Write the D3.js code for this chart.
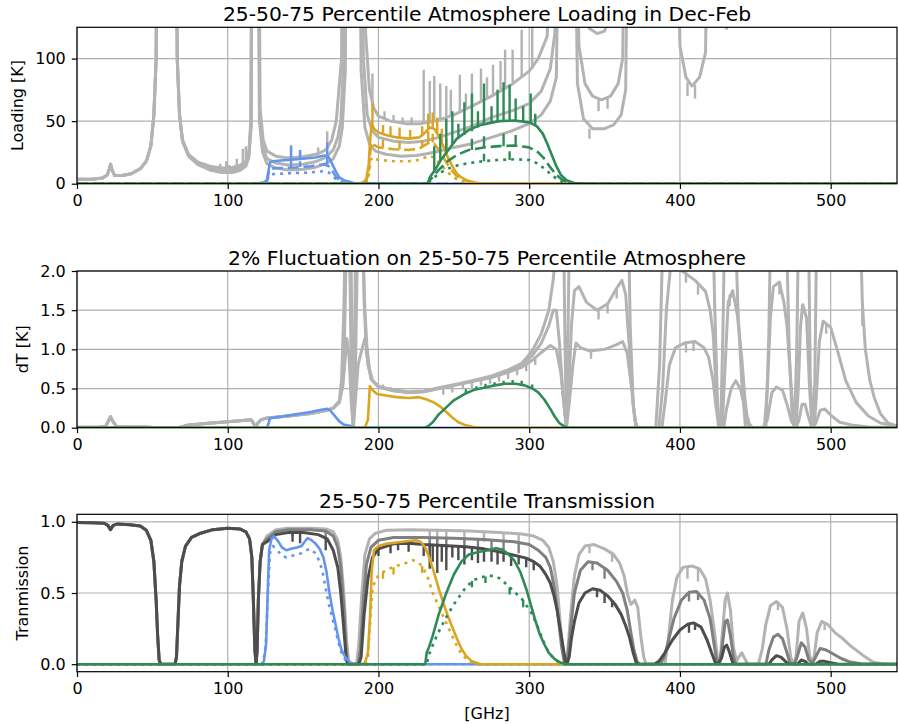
<!DOCTYPE html>
<html lang="en">
<head>
<meta charset="UTF-8">
<title>Atmosphere loading and transmission</title>
<script src="https://cdn.jsdelivr.net/npm/d3@7"></script>
<style>
  body { margin: 0; background: #fff; }
  svg { display: block; font-family: "DejaVu Sans", sans-serif; }
</style>
</head>
<body>
<svg id="chart" width="899" height="725"></svg>
<script>
// ---- shared axis values ----
const xDomain = [0, 544];
const xTicks = [0, 100, 200, 300, 400, 500];

// ---- panel 1: loading [K] (25 / 50 / 75 percentile) ----
const loadLo = [[0,3.5],[10,3.6],[17,4.5],[20,7],[21.5,12],[22.3,15.5],[23.2,11],[25,6.5],[30,6.6],[36,8],[42,12],[46,18],[49,30],[51,55],[52.5,100],[53.5,300],[65.5,300],[66.5,100],[68,55],[70,34],[74,22],[80,15.5],[88,11],[96,9],[103,9],[108,10.5],[112,14],[114,21],[115.5,45],[116.5,300],[119.8,300],[121,50],[123,26],[126,16],[132,12.5],[140,11],[150,11.5],[158,13],[165,16],[170,20],[174,30],[176,45],[178,90],[179,300],[187,300],[188.5,90],[191,45],[194,32],[198,26],[205,23.5],[215,22],[225,22.5],[232,24],[240,26],[250,29],[262,32],[275,37],[288,42],[300,48],[308,55],[314,66],[318,85],[320.5,300],[329.5,300],[332,80],[336,52],[342,44],[350,44],[356,47],[361,55],[364,75],[366,300],[397,300],[400,110],[404,85],[408,78],[413,85],[417,105],[419,300],[429.5,300],[431,124],[432.5,300],[544,300]];
const loadMid = [[0,3.5],[10,3.6],[17,4.5],[20,7],[21.5,12],[22.3,15.5],[23.2,11],[25,6.5],[30,6.6],[36,8],[42,12],[46,18],[49,30],[51,55],[52.5,100],[53.5,300],[65.5,300],[66.5,100],[68,55],[70,34],[74,22.5],[80,16.5],[88,12.5],[96,11],[103,11],[108,12.5],[112,16],[114,23],[115.5,48],[116.3,300],[120,300],[121.2,55],[123,30],[126,20],[132,16.5],[140,15],[150,15.5],[158,17.5],[165,21],[170,27],[173,37],[175,50],[177,100],[178,300],[188.5,300],[190,100],[192.5,55],[196,42],[200,37],[210,34],[220,33],[230,34],[240,37],[250,41],[262,46],[275,53],[288,58],[300,64],[308,74],[314,92],[317,120],[319,300],[330,300],[333,110],[337,80],[342,70],[348,67],[354,70],[359,80],[362,100],[364,300],[544,300]];
const loadHi = [[0,3.5],[10,3.6],[17,4.5],[20,7],[21.5,12],[22.3,15.5],[23.2,11],[25,6.5],[30,6.6],[36,8],[42,12],[46,18],[49,30],[51,55],[52.5,100],[53.5,300],[65.5,300],[66.5,100],[68,56],[70,35],[74,23.5],[80,17.5],[88,14],[96,12.5],[103,13],[108,14.5],[112,18],[114,25],[115.3,50],[116.2,300],[120.2,300],[121.5,60],[123.5,35],[126,26],[132,22],[140,20.5],[150,21.5],[160,24],[165,27],[169,35],[172,50],[175.5,100],[176.5,300],[190,300],[191.5,120],[194,75],[197,60],[200,54],[208,50],[218,48],[228,48],[238,50],[250,55],[262,62],[275,70],[288,79],[300,90],[306,100],[312,118],[315,300],[333,300],[336,135],[340,124],[345,120],[350,122],[354,135],[356,300],[544,300]];
// narrow lines: [GHz, base, tip]
const loadGreySpikes = [[95,10,16],[99,11,18],[101,11,15],[106,13,20],[110,15,28],[112,17,30],[142,20,31],[148,21,27],[160,24,29],[166,28,42],[196,62,88],[204,52,58],[210,50,55],[216,48,53],[222,48,53],[230,48,91],[234,49,82],[237,50,86],[241,51,80],[245,53,78],[248,54,75],[254,57,87],[258,59,72],[262,62,88],[268,66,92],[272,68,85],[276,71,95],[281,75,98],[284,77,107],[289,81,107],[295,86,123],[302,92,126],[340,44,36],[346,68,58],[352,69,60],[405,81,70],[410,79,68]];

const loadBlueHi = [[0,0],[112,0],[117,0.3],[121,0.6],[124,1],[126,3],[127,10],[128,17],[130,18],[135,18.5],[140,19],[150,20],[158,21],[164,22.5],[166.5,22],[168,19],[170,14],[172,9],[174,5],[177,2.8],[180,1.8],[183,0.8],[186,0],[544,0]];
const loadBlueMid = [[0,0],[120,0],[124,0.5],[126,2],[127,8],[128,12],[135,12.5],[145,13],[155,14],[164,15.5],[167,14],[169,11],[171,7],[173,4],[176,2],[180,1],[184,0],[544,0]];
const loadBlueLo = [[0,0],[121,0],[125,1],[127,5],[128,7.5],[135,8],[145,8.5],[155,9],[164,10],[167,9],[169,7],[171,4.5],[173,2.5],[176,1.2],[181,0.3],[184,0],[544,0]];
const loadBlueSpikes = [[142,19,30],[148,20,27],[166,22.5,33],[142,12.8,19],[148,13.3,18],[166,15.3,22]];

const loadOrangeHi = [[0,0],[186,0],[190,1],[192,4],[193.5,15],[194.5,35],[195.5,48],[197,44],[200,41],[205,39],[212,37],[220,36],[227,37],[231,41],[234,45],[237,44],[240,38],[243,30],[246,21],[249,14],[252,8],[255,5],[259,2.5],[264,1],[270,0],[544,0]];
const loadOrangeMid = [[0,0],[188,0],[192,2],[193.5,10],[194.5,25],[195.5,33],[197,31],[200,29],[210,27.5],[220,27],[227,28],[231,31],[234,33],[237,32],[240,27],[243,21],[246,15],[249,10],[252,6],[255,3.5],[260,1.5],[266,0],[544,0]];
const loadOrangeLo = [[0,0],[189,0],[192,1],[193.5,6],[194.5,15],[195.5,21],[197,20],[200,19],[210,18],[220,18],[227,19],[231,21],[234,22],[237,21],[240,17],[243,13],[246,9],[249,6],[252,3.5],[256,1.8],[262,0.5],[266,0],[544,0]];
const loadOrangeSpikes = [[196,46,64],[203,40,47],[208,38.5,46],[214,37,45],[221,36,43],[229,38,46],[233,43,56],[236,45,57],[239,40,53],[242,32,44],[245,24,36],[203,29,35],[214,27.5,34],[229,29,35],[233,32,42],[236,33,40]];

const loadGreenHi = [[0,0],[230,0],[233,0.5],[234,5],[238,12],[242,20],[247,28],[252,36],[260,43],[268,47],[280,50],[290,50.5],[300,49],[305,46],[309,40],[312,32],[315,23],[318,14],[321,7],[325,2.5],[330,0.5],[340,0],[544,0]];
const loadGreenMid = [[0,0],[232,0],[235,4],[240,11],[246,18],[252,23],[260,27],[270,29],[280,30],[290,30.5],[300,29],[306,25],[310,20],[314,13],[318,7],[322,3],[327,0.5],[335,0],[544,0]];
const loadGreenLo = [[0,0],[232,0],[235,3],[240,8],[246,12],[252,14.5],[260,16.5],[270,18],[280,19],[290,19.5],[300,19],[306,16],[310,12],[314,8],[318,4],[322,1.5],[327,0.3],[335,0],[544,0]];
const loadGreenSpikes = [[237,10,30],[241,18,40],[245,26,52],[249,31,58],[253,36,48],[257,39,65],[262,42,72],[266,45,58],[270,47,80],[275,48,62],[279,50,75],[283,50,81],[287,50,79],[291,50,68],[296,49,62],[301,48,72],[304,46,56],[262,27,36],[270,29,38],[283,30,40],[291,30,39],[270,18,24],[287,19,26]];

// ---- panel 2: dT [K] for a 2% fluctuation ----
const dtLow = [[0,0.005],[15,0.006],[19,0.02],[21,0.09],[22.2,0.14],[23.5,0.09],[26,0.02],[30,0.01],[45,0.008],[51,0.004],[54,0],[67,0],[69,0.01],[73,0.03],[85,0.055],[100,0.075],[112,0.095],[115.5,0.1],[117,0.06],[118.5,0.005],[120,0.06],[122,0.1],[125,0.12],[140,0.15],[155,0.18],[165,0.22],[170,0.25]];
const dtLo = dtLow.concat([[174,0.32],[176.5,0.55],[178,0.9],[179,1.14],[180.5,0.9],[182,0.3],[183.3,0],[184.5,0.3],[186.5,0.8],[189,1.0],[191,1.14],[192.5,1.0],[194,0.75],[196,0.6],[200,0.52],[210,0.47],[220,0.45],[230,0.46],[240,0.5],[250,0.54],[262,0.59],[275,0.64],[285,0.7],[295,0.77],[302,0.86],[308,0.96],[314,1.05],[318,1.0],[321,0.7],[323,0.3],[324.7,0],[326.5,0.3],[329,0.8],[331,1.08],[334,1.02],[340,0.98],[350,1.0],[358,1.06],[362,1.1],[365,0.95],[368,0.5],[370,0.1],[372,0],[388,0],[390,0.3],[393,0.8],[397,1.02],[403,1.08],[410,1.1],[416,1.02],[419,0.9],[422,0.6],[424,0.25],[426,0],[429,0],[431,0.25],[434,0.5],[437,0.6],[440,0.5],[443,0.25],[446,0.05],[448,0],[455,0],[458,0.1],[461,0.45],[464,0.52],[468,0.48],[471,0.3],[474,0.08],[477,0],[479,0.1],[481,0.3],[483,0.3],[485,0.15],[487,0.03],[490,0.05],[493,0.22],[496,0.24],[500,0.16],[506,0.07],[515,0.03],[525,0.01],[544,0.005]]);
const dtMid = dtLow.concat([[174,0.33],[176,0.55],[177.5,1.2],[178.8,2.4],[179.5,3],[180.8,2.4],[182,0.6],[183.3,0],[184.6,0.6],[186,2.2],[187.5,3],[189.5,2.4],[191,1.5],[193,0.8],[196,0.6],[200,0.52],[210,0.47],[220,0.45],[230,0.46],[240,0.5],[250,0.54],[262,0.59],[275,0.65],[285,0.71],[295,0.8],[302,0.92],[308,1.08],[313,1.3],[316,1.5],[318,1.5],[320,1.1],[322.5,0.4],[324.7,0],[326.5,0.6],[328,1.3],[330,1.75],[333,1.8],[338,1.6],[345,1.5],[352,1.58],[358,1.78],[361.5,1.88],[364,1.7],[366.5,1.0],[369,0.3],[371,0],[386,0],[388.5,0.5],[391,1.5],[394,2.1],[400,2.02],[410,1.88],[417,1.74],[420,1.5],[422,1.2],[424,0.5],[426,0],[428,0],[430,0.8],[432,1.6],[435,1.75],[438,1.45],[441,0.9],[443,0.4],[445,0.05],[447,0],[456,0],[458,0.5],[460,1.4],[462,1.8],[466,1.86],[469,1.6],[471,1.3],[473.5,0.6],[475.5,0.1],[477,0],[478.5,0.5],[480,1.3],[481.5,1.57],[484,1.4],[486,0.5],[487.5,0.05],[489,0],[490.5,0.4],[492.5,1.1],[495,1.36],[500,1.28],[505,0.95],[510,0.6],[517,0.32],[525,0.15],[533,0.06],[544,0.02]]);
const dtHi = dtLow.concat([[174,0.34],[175.5,0.6],[177,1.5],[178.5,3],[181.5,3],[182.6,0.5],[183.3,0],[184,0.5],[185,3],[189,3],[190.5,1.6],[192,0.95],[195,0.62],[200,0.53],[210,0.48],[220,0.46],[230,0.47],[240,0.51],[250,0.55],[262,0.6],[275,0.66],[285,0.73],[295,0.82],[302,0.98],[308,1.2],[313,1.5],[316,1.9],[318,2.3],[320,3],[322.5,3],[323.8,1.0],[324.7,0],[325.6,1.0],[327,3],[365.5,3],[367,1.3],[369,0.3],[371,0],[384,0],[386.5,0.8],[388.5,2.3],[389,3],[421.5,3],[423,1.6],[424.5,0.6],[425.5,0],[427,0],[428.5,1.2],[430,3],[436,3],[438.5,1.5],[441,0.6],[443.5,0],[457,0],[459,1.2],[460.5,3],[470,3],[472.5,1.0],[474.5,0.1],[476,0],[477.5,1.0],[479,3],[485,3],[486.5,0.6],[488,0],[489.5,0.6],[491,3],[519,3],[521,1.6],[523,1.0],[526,0.6],[529,0.38],[533,0.18],[538,0.06],[544,0.02]]);
const dtGreySpikes = [[203,0.5,0.55],[208,0.48,0.52],[214,0.46,0.5],[243,0.51,0.42],[249,0.53,0.45],[256,0.56,0.49],[262,0.58,0.5],[268,0.61,0.54],[274,0.63,0.56],[280,0.67,0.59],[286,0.71,0.62],[292,0.75,0.67],[298,0.82,0.72],[304,0.9,0.8],[341,0.98,0.88],[346,1.5,1.38],[352,1.58,1.46],[358,1.78,1.65],[404,1.08,0.96],[409,1.1,0.98],[404,2.02,1.85],[412,1.85,1.7],[433,1.7,1.55],[466,1.86,1.7],[481,1.57,1.45],[497,1.33,1.2],[521,1.6,1.3]];
const dtBlue = [[0,0],[126,0],[127,0.05],[128,0.12],[135,0.14],[145,0.17],[155,0.2],[162,0.23],[166,0.24],[168,0.22],[171,0.15],[174,0.08],[177,0.04],[181,0.025],[183,0.01],[185,0],[544,0]];
const dtOrange = [[0,0],[191,0],[193,0.1],[194.3,0.53],[196,0.48],[199,0.43],[205,0.41],[212,0.39],[220,0.38],[227,0.39],[232,0.36],[237,0.32],[241,0.27],[245,0.2],[249,0.13],[253,0.07],[258,0.03],[264,0.005],[268,0],[544,0]];
const dtGreen = [[0,0],[231,0],[233,0.02],[236,0.07],[240,0.17],[245,0.26],[250,0.35],[257,0.43],[263,0.48],[270,0.51],[277,0.54],[284,0.56],[291,0.56],[297,0.54],[302,0.5],[306,0.45],[310,0.36],[314,0.24],[317,0.14],[320,0.06],[323,0.02],[326,0],[544,0]];
const dtGreenSpikes = [[258,0.44,0.49],[265,0.48,0.53],[271,0.51,0.56],[277,0.54,0.58],[283,0.56,0.6],[289,0.56,0.61],[295,0.55,0.6],[302,0.5,0.55]];

// ---- panel 3: transmission ----
const transLow = [[0,0.995],[10,0.994],[18,0.99],[20.5,0.975],[22.2,0.945],[24,0.975],[27,0.985],[35,0.98],[42,0.97],[46,0.94],[49,0.87],[51,0.72],[52.5,0.45],[53.5,0.2],[54.5,0.03],[55.5,0],[65,0],[66,0.05],[67,0.3],[68,0.55],[69.5,0.72],[72,0.83],[76,0.89],[82,0.92],[90,0.945],[100,0.955],[108,0.95],[112,0.93],[114.5,0.88],[116,0.75],[117,0.45],[118,0.1],[118.8,0],[119.5,0.1],[120.3,0.45],[121.5,0.72],[123,0.84]];
const transLight = transLow.concat([[126,0.9],[132,0.945],[140,0.955],[155,0.955],[165,0.95],[170,0.93],[173,0.87],[175,0.75],[177,0.5],[179,0.15],[180.5,0],[185.5,0],[187,0.15],[189,0.5],[191,0.77],[194,0.88],[198,0.92],[205,0.94],[220,0.945],[240,0.94],[260,0.935],[280,0.925],[295,0.915],[303,0.9],[309,0.87],[313,0.82],[316,0.72],[318.5,0.55],[320.5,0.3],[322.5,0.08],[324,0],[325.5,0.08],[327.5,0.35],[330,0.62],[333,0.77],[337,0.83],[343,0.84],[350,0.81],[356,0.77],[360,0.71],[363,0.62],[365.5,0.48],[367.5,0.42],[370,0.45],[372,0.4],[374,0.2],[376,0.05],[377.5,0],[390,0],[392,0.15],[395,0.45],[398,0.61],[402,0.68],[408,0.69],[413,0.67],[417,0.6],[420,0.45],[423,0.22],[425,0.04],[426.5,0],[428,0.2],[430,0.45],[431.5,0.5],[433.5,0.38],[435.5,0.12],[437.5,0.02],[439,0.05],[441,0.08],[443,0.04],[445,0],[452,0],[454.5,0.1],[457,0.28],[460,0.41],[464,0.44],[468,0.4],[471,0.25],[473.5,0.05],[475,0],[477,0.05],[479,0.3],[481.5,0.36],[484,0.25],[486,0.06],[487.5,0.02],[489,0.05],[491,0.22],[494,0.3],[498,0.28],[503,0.22],[508,0.18],[513,0.13],[518,0.09],[523,0.05],[528,0.015],[534,0.002],[544,0]]);
const transMid = transLow.concat([[126,0.88],[132,0.93],[140,0.945],[155,0.945],[165,0.935],[170,0.9],[173,0.82],[175,0.68],[177,0.4],[178.5,0.1],[179.5,0],[186.5,0],[188,0.1],[190,0.45],[192,0.7],[195,0.82],[200,0.87],[210,0.89],[230,0.89],[250,0.885],[270,0.875],[290,0.86],[300,0.84],[306,0.8],[311,0.75],[314,0.68],[316.5,0.55],[319,0.35],[321.5,0.12],[323.5,0],[325.5,0.05],[327.5,0.25],[330,0.5],[334,0.66],[339,0.72],[345,0.71],[352,0.66],[358,0.58],[362,0.5],[365,0.38],[367.5,0.22],[369.5,0.1],[371.5,0.02],[373,0],[387,0],[389.5,0.05],[392,0.15],[396,0.32],[401,0.45],[406,0.505],[411,0.51],[416,0.45],[420,0.32],[422.5,0.15],[424.5,0.02],[426,0],[428,0.12],[430,0.3],[431.5,0.31],[433.5,0.2],[435.5,0.05],[437,0],[457,0],[459,0.1],[462,0.19],[465,0.21],[468,0.18],[471,0.08],[473,0.01],[476,0],[478,0.06],[480.5,0.15],[483,0.12],[485.5,0.03],[488,0.01],[490,0.05],[493,0.11],[497,0.1],[502,0.07],[507,0.04],[513,0.015],[520,0.003],[544,0]]);
const transDark = transLow.concat([[126,0.86],[132,0.91],[140,0.925],[150,0.925],[160,0.91],[166,0.88],[170,0.8],[173,0.68],[175,0.5],[177,0.25],[178.5,0.05],[179.5,0],[187,0],[188.5,0.05],[190.5,0.35],[193,0.6],[196,0.75],[200,0.81],[210,0.845],[220,0.85],[230,0.84],[240,0.835],[258,0.825],[270,0.81],[280,0.79],[290,0.765],[298,0.745],[303,0.72],[307,0.69],[311,0.63],[314,0.57],[316.5,0.48],[318.5,0.38],[320.5,0.25],[322.5,0.12],[324,0.02],[325,0],[326.5,0.05],[328,0.18],[330,0.3],[333,0.43],[337,0.5],[342,0.53],[347,0.52],[352,0.48],[357,0.42],[361,0.35],[364,0.27],[366.5,0.19],[369,0.08],[371,0.01],[373,0],[383,0],[386,0.02],[390,0.08],[395,0.17],[400,0.24],[405,0.28],[409,0.29],[414,0.26],[418,0.17],[421,0.08],[423.5,0.01],[425,0],[427.5,0.04],[429.5,0.12],[431,0.135],[433,0.08],[435,0.01],[436,0],[459,0],[461,0.03],[464,0.06],[467,0.05],[470,0.02],[472,0],[478,0],[480.5,0.03],[483,0.02],[485,0],[490,0],[493,0.02],[496,0.02],[500,0.01],[505,0],[544,0]]);
const transLightSpikes = [[234,0.94,0.84],[239,0.94,0.86],[245,0.94,0.87],[257,0.935,0.86],[270,0.93,0.86],[283,0.925,0.85],[293,0.915,0.84],[340,0.84,0.78],[355,0.79,0.72],[405,0.685,0.6],[412,0.68,0.58],[430,0.47,0.4],[465,0.44,0.38],[496,0.29,0.24]];
const transMidSpikes = [[143,0.945,0.9],[165,0.935,0.88],[234,0.89,0.8],[239,0.89,0.82],[245,0.885,0.8],[257,0.88,0.81],[266,0.877,0.8],[275,0.87,0.8],[283,0.865,0.79],[293,0.855,0.78],[342,0.72,0.66],[350,0.68,0.6],[406,0.505,0.44],[412,0.51,0.45]];
const transDarkSpikes = [[143,0.925,0.86],[148,0.925,0.85],[165,0.885,0.8],[200,0.81,0.76],[208,0.84,0.78],[213,0.85,0.8],[220,0.85,0.79],[230,0.84,0.76],[234,0.84,0.67],[236,0.84,0.72],[239,0.835,0.64],[242,0.835,0.72],[245,0.83,0.66],[249,0.83,0.75],[253,0.83,0.73],[257,0.825,0.7],[262,0.82,0.73],[266,0.815,0.71],[270,0.81,0.72],[275,0.8,0.72],[279,0.79,0.7],[283,0.78,0.72],[288,0.77,0.69],[293,0.76,0.7],[298,0.745,0.68],[303,0.72,0.66],[345,0.525,0.47],[350,0.5,0.43],[355,0.45,0.4],[406,0.285,0.22],[410,0.29,0.24]];

const transBlue = [[0,0],[122,0],[124,0.02],[125.5,0.15],[126.5,0.5],[127.5,0.8],[129,0.88],[130.5,0.9],[133,0.87],[136,0.82],[139,0.8],[142,0.81],[146,0.82],[149,0.83],[151,0.86],[153,0.885],[155,0.875],[158,0.85],[161,0.81],[163.5,0.75],[165.5,0.65],[167.5,0.5],[169.5,0.38],[171.5,0.28],[173.5,0.18],[175.5,0.1],[178,0.05],[181,0.015],[184,0],[544,0]];
const transBlueDot = [[0,0],[123,0],[125,0.1],[126.5,0.45],[128,0.78],[130,0.83],[133,0.8],[136,0.76],[139,0.75],[142,0.76],[146,0.77],[149,0.78],[152,0.8],[155,0.81],[158,0.78],[161,0.72],[163.5,0.62],[165.5,0.5],[167.5,0.4],[169.5,0.32],[171.5,0.24],[173.5,0.15],[175.5,0.08],[178,0.03],[182,0],[544,0]];
const transOrange = [[0,0],[189,0],[191,0.01],[193,0.08],[194.5,0.35],[195.5,0.65],[197,0.8],[200,0.83],[205,0.845],[212,0.855],[220,0.865],[225,0.87],[228,0.86],[231,0.82],[234,0.74],[237,0.64],[240,0.53],[243,0.43],[246,0.34],[249,0.26],[252,0.18],[255,0.11],[258,0.06],[262,0.02],[268,0],[544,0]];
const transOrangeDot = [[0,0],[191,0],[193,0.04],[194.5,0.3],[196,0.52],[198,0.6],[202,0.64],[207,0.67],[212,0.69],[218,0.71],[223,0.73],[227,0.71],[230,0.67],[233,0.6],[236,0.5],[239,0.43],[242,0.36],[245,0.29],[248,0.22],[251,0.15],[254,0.09],[257,0.05],[261,0.015],[266,0],[544,0]];
const transGreen = [[0,0],[231,0],[232,0.08],[233.5,0.12],[236,0.2],[240,0.35],[245,0.5],[250,0.63],[255,0.72],[260,0.77],[267,0.79],[273,0.8],[278,0.815],[282,0.805],[286,0.775],[290,0.73],[294,0.65],[298,0.53],[301,0.42],[304,0.31],[307,0.21],[310,0.14],[313,0.08],[317,0.035],[321,0.01],[325,0],[544,0]];
const transGreenDot = [[0,0],[232,0],[234,0.08],[237,0.16],[241,0.25],[245,0.33],[250,0.42],[254,0.48],[258,0.54],[263,0.59],[268,0.61],[273,0.62],[277,0.62],[281,0.6],[285,0.56],[290,0.51],[295,0.46],[299,0.4],[302,0.35],[305,0.28],[308,0.2],[311,0.12],[314,0.07],[317,0.03],[321,0.005],[324,0],[544,0]];
const transOrangeDotSpikes = [[203,0.645,0.6],[210,0.68,0.63],[229,0.69,0.64]];
const transGreenDotSpikes = [[262,0.585,0.54],[271,0.615,0.57],[287,0.54,0.49],[296,0.45,0.4]];

// ---- styles ----
const GREY = "#b3b3b3", GREY_MID = "#808080", GREY_DARK = "#4d4d4d";
const BLUE = "#6495ed", ORANGE = "#daa520", GREEN = "#2e8b57";
const DASH = "11,4.8", DOT = "3,5";
const TICK_FONT = 16, LABEL_FONT = 16, TITLE_FONT = 20.3;

const svg = d3.select("#chart");
const left = 77, right = 897;
const x = d3.scaleLinear().domain(xDomain).range([left, right]);

const panels = [
  {
    top: 27.3, bottom: 183.7, yDomain: [0, 125], yTicks: [0, 50, 100], fmt: d3.format("d"),
    title: "25-50-75 Percentile Atmosphere Loading in Dec-Feb", ylabel: "Loading [K]",
    series: [
      [loadLo, GREY], [loadMid, GREY], [loadHi, GREY],
      [loadBlueHi, BLUE], [loadBlueMid, BLUE, DASH], [loadBlueLo, BLUE, DOT],
      [loadOrangeHi, ORANGE], [loadOrangeMid, ORANGE, DASH], [loadOrangeLo, ORANGE, DOT],
      [loadGreenHi, GREEN], [loadGreenMid, GREEN, DASH], [loadGreenLo, GREEN, DOT]
    ],
    spikes: [[loadGreySpikes, GREY, 0], [loadBlueSpikes, BLUE, 3], [loadOrangeSpikes, ORANGE, 6], [loadGreenSpikes, GREEN, 9]]
  },
  {
    top: 271, bottom: 427.7, yDomain: [0, 2], yTicks: [0, 0.5, 1, 1.5, 2], fmt: d3.format(".1f"),
    title: "2% Fluctuation on 25-50-75 Percentile Atmosphere", ylabel: "dT [K]",
    series: [
      [dtLo, GREY], [dtMid, GREY], [dtHi, GREY],
      [dtBlue, BLUE], [dtOrange, ORANGE], [dtGreen, GREEN]
    ],
    spikes: [[dtGreySpikes, GREY, 0], [dtGreenSpikes, GREEN, 5]]
  },
  {
    top: 514.3, bottom: 671.7, yDomain: [-0.0527, 1.0527], yTicks: [0, 0.5, 1], fmt: d3.format(".1f"),
    title: "25-50-75 Percentile Transmission", ylabel: "Tranmission", xlabel: "[GHz]",
    series: [
      [transLight, GREY], [transMid, GREY_MID], [transDark, GREY_DARK],
      [transBlue, BLUE], [transBlueDot, BLUE, DOT],
      [transOrange, ORANGE], [transOrangeDot, ORANGE, DOT],
      [transGreen, GREEN], [transGreenDot, GREEN, DOT]
    ],
    spikes: [[transLightSpikes, GREY, 0], [transMidSpikes, GREY_MID, 1], [transDarkSpikes, GREY_DARK, 2],
             [transOrangeDotSpikes, ORANGE, 6], [transGreenDotSpikes, GREEN, 8]]
  }
];

const greys = [GREY, GREY_MID, GREY_DARK];

panels.forEach((p, i) => {
  const y = d3.scaleLinear().domain(p.yDomain).range([p.bottom, p.top]);
  const g = svg.append("g");
  const clipId = "clip" + i;

  svg.append("clipPath").attr("id", clipId)
    .append("rect").attr("x", left).attr("y", p.top)
    .attr("width", right - left).attr("height", p.bottom - p.top);

  // grid
  const grid = g.append("g").attr("stroke", "#b0b0b0").attr("stroke-width", 1.2);
  grid.selectAll(".gx").data(xTicks).join("line")
    .attr("x1", d => x(d)).attr("x2", d => x(d)).attr("y1", p.top).attr("y2", p.bottom);
  grid.selectAll(".gy").data(p.yTicks).join("line")
    .attr("x1", left).attr("x2", right).attr("y1", d => y(d)).attr("y2", d => y(d));

  // curves and narrow lines, in plotting order
  const plot = g.append("g").attr("clip-path", `url(#${clipId})`);
  const line = d3.line().x(d => x(d[0])).y(d => y(d[1]));
  p.series.forEach((s, k) => {
    const sg = plot.append("g");
    sg.append("path").datum(s[0])
      .attr("d", line)
      .attr("fill", "none")
      .attr("stroke", s[1])
      .attr("stroke-width", greys.includes(s[1]) ? 3 : 2.6)
      .attr("stroke-linejoin", "round")
      .attr("stroke-dasharray", s[2] || null);
    p.spikes.filter(sp => sp[2] === k).forEach(sp => {
      sg.selectAll("line.spk").data(sp[0]).join("line")
        .attr("x1", d => x(d[0])).attr("x2", d => x(d[0]))
        .attr("y1", d => y(d[1])).attr("y2", d => y(d[2]))
        .attr("stroke", sp[1]).attr("stroke-width", 2.4);
    });
  });

  // axes
  const xAxis = d3.axisBottom(x).tickValues(xTicks).tickSize(5.25).tickPadding(6).tickFormat(d3.format("d"));
  const yAxis = d3.axisLeft(y).tickValues(p.yTicks).tickSize(5.25).tickPadding(6).tickFormat(p.fmt);
  const gx = g.append("g").attr("transform", `translate(0,${p.bottom})`).call(xAxis);
  const gy = g.append("g").attr("transform", `translate(${left},0)`).call(yAxis);
  [gx, gy].forEach(a => {
    a.select(".domain").remove();
    a.selectAll(".tick line").attr("stroke", "#000").attr("stroke-width", 1.2);
    a.selectAll(".tick text").attr("fill", "#000").attr("font-size", TICK_FONT)
      .attr("font-family", "DejaVu Sans, sans-serif");
  });

  // frame
  g.append("rect").attr("x", left).attr("y", p.top)
    .attr("width", right - left).attr("height", p.bottom - p.top)
    .attr("fill", "none").attr("stroke", "#000").attr("stroke-width", 1.2);

  // title
  g.append("text").attr("x", (left + right) / 2).attr("y", p.top - 6)
    .attr("text-anchor", "middle").attr("font-size", TITLE_FONT).attr("fill", "#000")
    .text(p.title);

  // y label, placed left of the widest tick label
  let minX = left;
  gy.selectAll(".tick text").each(function () {
    const b = this.getBBox();
    minX = Math.min(minX, left - 11.25 - b.width);
  });
  g.append("text")
    .attr("transform", `translate(${minX - 12},${(p.top + p.bottom) / 2}) rotate(-90)`)
    .attr("text-anchor", "middle").attr("font-size", LABEL_FONT).attr("fill", "#000")
    .text(p.ylabel);

  if (p.xlabel) {
    g.append("text").attr("x", (left + right) / 2).attr("y", p.bottom + 47)
      .attr("text-anchor", "middle").attr("font-size", LABEL_FONT).attr("fill", "#000")
      .text(p.xlabel);
  }
});
</script>
</body>
</html>
